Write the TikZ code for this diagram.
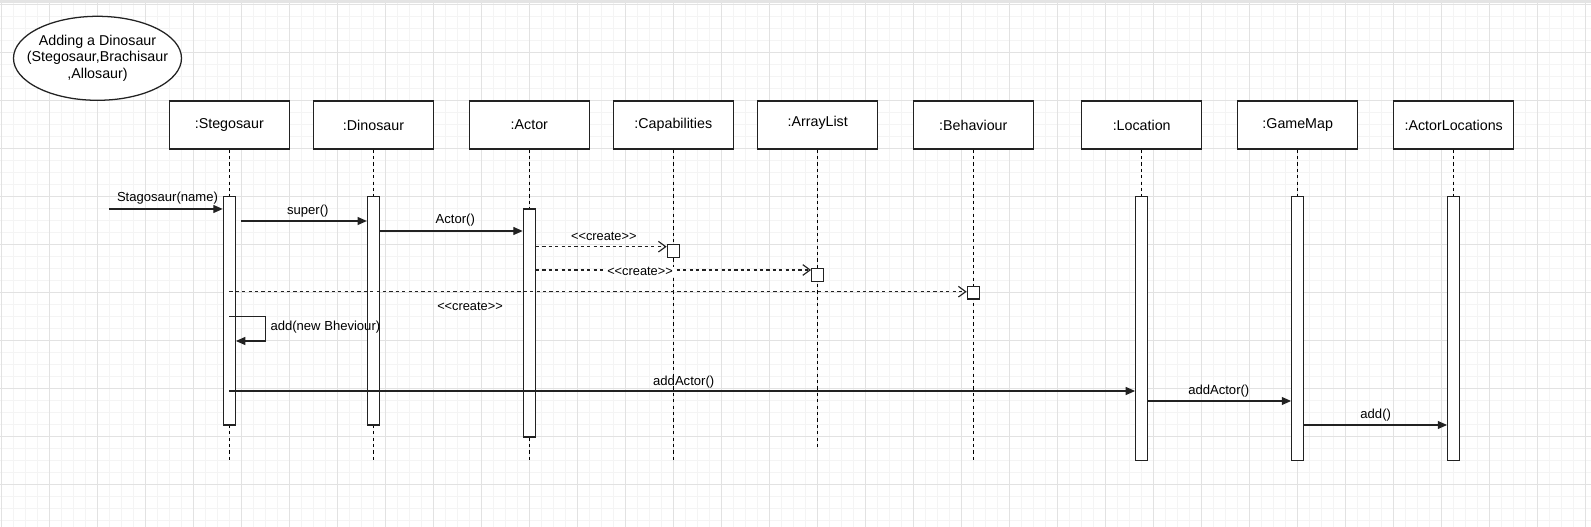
\documentclass[tikz,border=0pt]{standalone}
\usepackage{fontspec}
\setmainfont{Liberation Sans}
\usetikzlibrary{arrows.meta,shapes.geometric}
\definecolor{gridmajor}{HTML}{E2E2E2}
\definecolor{gridminor}{HTML}{F4F4F4}
\definecolor{topband}{HTML}{E4E4E4}
\definecolor{ink}{HTML}{222222}
\tikzset{
 objbox/.style={draw=ink, line width=0.95pt, fill=white, minimum width=90pt, minimum height=36pt, inner sep=0pt, font=\fontsize{10.7}{12}\selectfont},
 actbar/.style={draw=ink, line width=0.95pt, fill=white, minimum width=9pt, inner sep=0pt},
 lifeline/.style={draw=black, line width=0.8pt, dash pattern=on 2.4pt off 2.4pt},
 msg/.style={draw=ink, line width=0.85pt, -{Triangle[length=7pt,width=6pt]}},
 createmsg/.style={draw=ink, line width=0.85pt, dash pattern=on 2.4pt off 2.4pt, -{Straight Barb[length=5.5pt,width=8pt]}},
 msglabel/.style={inner sep=0pt, font=\fontsize{9.8}{12}\selectfont},
 createlabel/.style={inner sep=0pt, font=\fontsize{9.6}{11}\selectfont},
 newbox/.style={draw=ink, line width=0.95pt, fill=white, minimum width=9pt, inner sep=0pt},
 titleell/.style={ellipse, draw=ink, line width=0.95pt, fill=white, minimum width=126pt, minimum height=63pt, inner sep=0pt},
 titletext/.style={align=center, inner sep=0pt, font=\fontsize{10.7}{12.5}\selectfont},
}
\begin{document}
\begin{tikzpicture}[x=0.75pt,y=-0.75pt]
\useasboundingbox (0,0) rectangle (1591,527);
\fill[white] (0,0) rectangle (1591,527);
% grid
\foreach \i in {0,...,132} \draw[gridminor, line width=0.6pt] ({1.3+12*\i},3.5) -- ({1.3+12*\i},527);
\foreach \i in {0,...,43} \draw[gridminor, line width=0.6pt] (0,{4.3+12*\i}) -- (1591,{4.3+12*\i});
\foreach \i in {0,...,33} \draw[gridmajor, line width=0.7pt] ({1.3+48*\i},3.5) -- ({1.3+48*\i},527);
\foreach \i in {0,...,10} \draw[gridmajor, line width=0.7pt] (0,{4.3+48*\i}) -- (1591,{4.3+48*\i});
\fill[topband] (0,0) rectangle (1591,3.5);

% title
\node[titleell, label={[titletext]center:{Adding a Dinosaur\\(Stegosaur,Brachisaur\\,Allosaur)}}] (title) at (97.5,58.3) {};

% object boxes
\node[objbox] (steg) at (229.3,125) {:Stegosaur};
\node[objbox] (dino) at (373.5,125) {:Dinosaur};
\node[objbox] (actor) at (529.3,125) {:Actor};
\node[objbox] (cap) at (673.3,125) {:Capabilities};
\node[objbox] (arr) at (817.7,125) {\raisebox{6pt}{:ArrayList}};
\node[objbox] (beh) at (973.3,125) {:Behaviour};
\node[objbox] (loc) at (1141.7,125) {:Location};
\node[objbox] (gm) at (1297.7,125) {:GameMap};
\node[objbox] (al) at (1453.7,125) {:ActorLocations};

% lifelines
\draw[lifeline] (steg.south) -- (steg.south |- 0,460.7);
\draw[lifeline] (dino.south) -- (dino.south |- 0,460.7);
\draw[lifeline] (actor.south) -- (actor.south |- 0,460.7);
\draw[lifeline] (cap.south) -- (cap.south |- 0,460.7);
\draw[lifeline] (arr.south) -- (arr.south |- 0,446.7);
\draw[lifeline] (beh.south) -- (beh.south |- 0,460.7);

% activation bars
\node[actbar, minimum height=171.2pt] (sb) at (229.3,310.85) {};
\node[actbar, minimum height=171.2pt] (db) at (373.5,310.85) {};
\node[actbar, minimum height=171pt] (ab) at (529.3,323) {};
\node[actbar, minimum height=198pt] (lb) at (1141.7,328.7) {};
\node[actbar, minimum height=198pt] (gb) at (1297.7,328.7) {};
\node[actbar, minimum height=198pt] (alb) at (1453.7,328.7) {};
\draw[lifeline] (loc.south) -- (lb.north);
\draw[lifeline] (gm.south) -- (gb.north);
\draw[lifeline] (al.south) -- (alb.north);

% messages
\coordinate (found) at (109.3,209);
\draw[msg] (found) -- (sb.west |- found);
\node[msglabel] (l1) at (167.5,198.3) {Stagosaur(name)};

\coordinate (superstart) at (241,221);
\draw[msg] (superstart) -- (db.west |- superstart);
\node[msglabel] (l2) at (307.8,211) {super()};

\draw[msg] (db.east |- 0,231) -- (ab.west |- 0,231);
\node[msglabel] (l3) at (455.3,220) {Actor()};

% create messages
\node[newbox, minimum height=9.75pt] (capnew) at (673.3,250.8) {};
\node[newbox, minimum height=9.5pt] (arrnew) at (817.7,275) {};
\node[newbox, minimum height=9.3pt] (behnew) at (973.3,292.9) {};

\draw[createmsg] (ab.east |- 0,246.7) -- (capnew.west |- 0,246.7);
\node[createlabel] (l4) at (603.8,236.7) {<{}<create>{}>};

\draw[createmsg] (ab.east |- 0,270) -- (arrnew.west |- 0,270);
\node[createlabel, fill=white, inner xsep=1pt, inner ysep=0.5pt] (l5) at (640,271.7) {<{}<create>{}>};

\draw[createmsg] (sb.center |- 0,291.7) -- (behnew.west |- 0,291.7);
\node[createlabel] (l6) at (470,306.7) {<{}<create>{}>};

% self call
\coordinate (selfA) at (265.7,316.7);
\coordinate (selfB) at (265.7,341);
\draw[msg] (sb.center |- selfA) -- (selfA) -- (selfB) -- (sb.east |- selfB);
\node[msglabel, anchor=west] (l7) at (270.3,326.7) {add(new Bheviour)};

% addActor etc.
\draw[msg] (sb.center |- 0,391) -- (lb.west |- 0,391);
\node[msglabel] (l8) at (683.7,381.7) {addActor()};

\draw[msg] (lb.east |- 0,401) -- (gb.west |- 0,401);
\node[msglabel] (l9) at (1218.8,391) {addActor()};

\draw[msg] (gb.east |- 0,425) -- (alb.west |- 0,425);
\node[msglabel] (l10) at (1375.7,415) {add()};
\end{tikzpicture}
\end{document}
